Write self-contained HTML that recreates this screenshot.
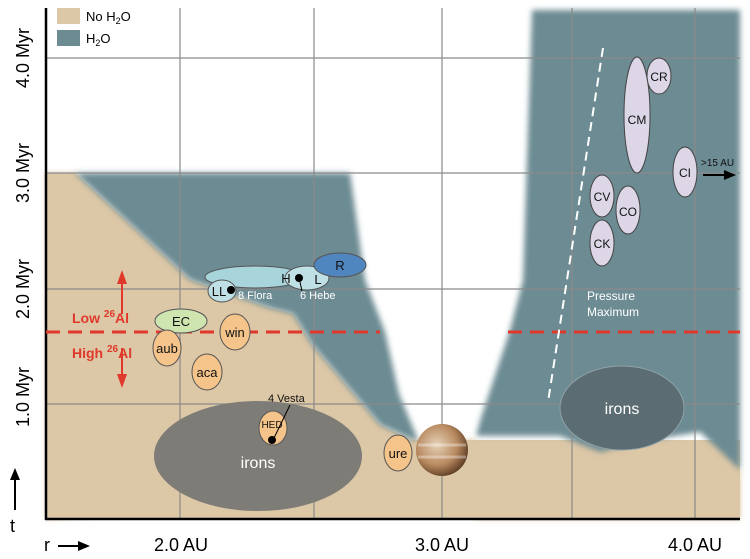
<!DOCTYPE html>
<html><head><meta charset="utf-8"><style>
html,body{margin:0;padding:0;background:#fff;}
svg{display:block;font-family:"Liberation Sans",Arial,sans-serif;}
</style></head><body>
<svg width="750" height="559" viewBox="0 0 750 559" xmlns="http://www.w3.org/2000/svg">
<defs>
<filter id="bl" x="-5%" y="-5%" width="110%" height="110%"><feGaussianBlur stdDeviation="3"/></filter>
<radialGradient id="jup" cx="40%" cy="40%" r="65%">
<stop offset="0" stop-color="#e6d2b8"/><stop offset="0.6" stop-color="#b98a60"/><stop offset="1" stop-color="#5a3a22"/></radialGradient>
</defs>
<rect width="750" height="559" fill="#fff"/>
<!-- tan -->
<polygon points="46,173 75,173 190,280 269,308 293,314 312,345 336,373 380,425 413,440 476,440 476,519 740,519 740,470 46,519" fill="#dcc7a6" filter="url(#bl)"/>
<rect x="46" y="440" width="694" height="79" fill="#dcc7a6"/>
<polygon points="46,173 75,173 190,280 269,308 293,314 312,345 336,373 380,425 415,442 46,442" fill="#dcc7a6"/>
<!-- left teal -->
<polygon points="75,173 350,173 365,280 385,332 399,394 418,440 413,440 380,425 336,373 312,345 293,314 269,308 190,280" fill="#6c8b93" filter="url(#bl)"/>
<!-- right teal -->
<polygon points="532,10 740,10 740,470 700,432 650,440 600,452 560,436 476,436 481,418 510,330 523,280" fill="#6c8b93" filter="url(#bl)"/>
<!-- grid -->
<g stroke="#8a8a8a" stroke-width="1.2">
<line x1="180" y1="8" x2="180" y2="519"/><line x1="314" y1="8" x2="314" y2="519"/>
<line x1="442" y1="8" x2="442" y2="519"/><line x1="572" y1="8" x2="572" y2="519"/>
<line x1="695" y1="8" x2="695" y2="519"/>
<line x1="46" y1="58" x2="740" y2="58"/><line x1="46" y1="173" x2="740" y2="173"/>
<line x1="46" y1="289" x2="740" y2="289"/><line x1="46" y1="404" x2="740" y2="404"/>
</g>
<line x1="46" y1="8" x2="46" y2="520" stroke="#000" stroke-width="2.5"/>
<line x1="45" y1="519" x2="740" y2="519" stroke="#000" stroke-width="2.5"/>
<!-- legend -->
<rect x="57" y="8" width="23" height="16" fill="#dcc7a6"/>
<rect x="57" y="30" width="23" height="16" fill="#6c8b93"/>
<text x="86" y="21" font-size="13">No H<tspan font-size="9" dy="3">2</tspan><tspan dy="-3">O</tspan></text>
<text x="86" y="43" font-size="13">H<tspan font-size="9" dy="3">2</tspan><tspan dy="-3">O</tspan></text>
<!-- y labels -->
<g font-size="18">
<text transform="translate(29,58) rotate(-90)" text-anchor="middle">4.0 Myr</text>
<text transform="translate(29,173) rotate(-90)" text-anchor="middle">3.0 Myr</text>
<text transform="translate(29,289) rotate(-90)" text-anchor="middle">2.0 Myr</text>
<text transform="translate(29,397) rotate(-90)" text-anchor="middle">1.0 Myr</text>
</g>
<line x1="15" y1="510" x2="15" y2="478" stroke="#000" stroke-width="2"/>
<polygon points="15,468 10,480 20,480" fill="#000"/>
<text x="10" y="532" font-size="18">t</text>
<text x="44" y="551" font-size="18">r</text>
<line x1="58" y1="546" x2="80" y2="546" stroke="#000" stroke-width="2"/>
<polygon points="90,546 78,541 78,551" fill="#000"/>
<g font-size="18" text-anchor="middle">
<text x="181" y="551">2.0 AU</text><text x="442" y="551">3.0 AU</text><text x="695" y="551">4.0 AU</text>
</g>
<!-- red -->
<line x1="46" y1="332" x2="380" y2="332" stroke="#e0392c" stroke-width="3" stroke-dasharray="14,8"/>
<line x1="508" y1="332" x2="740" y2="332" stroke="#e0392c" stroke-width="3" stroke-dasharray="14,8"/>
<line x1="122" y1="314" x2="122" y2="282" stroke="#e0392c" stroke-width="2"/>
<polygon points="122,270 117,284 127,284" fill="#e0392c"/>
<line x1="122" y1="348" x2="122" y2="376" stroke="#e0392c" stroke-width="2"/>
<polygon points="122,388 117,374 127,374" fill="#e0392c"/>
<text x="72" y="323" font-size="14" font-weight="bold" fill="#e0392c">Low <tspan font-size="10" dy="-6">26</tspan><tspan dy="6">Al</tspan></text>
<text x="72" y="358" font-size="14" font-weight="bold" fill="#e0392c">High <tspan font-size="10" dy="-6">26</tspan><tspan dy="6">Al</tspan></text>
<!-- irons -->
<ellipse cx="258" cy="456" rx="104" ry="55" fill="#7d7c76"/>
<text x="258" y="468" font-size="16" fill="#fff" text-anchor="middle">irons</text>
<ellipse cx="622" cy="408" rx="62" ry="42" fill="#5b6d72" stroke="#8fa3a8"/>
<text x="622" y="414" font-size="16" fill="#fff" text-anchor="middle">irons</text>
<!-- pressure -->
<line x1="603" y1="48" x2="548" y2="402" stroke="#fff" stroke-width="2" stroke-dasharray="9,6"/>
<text x="587" y="300" font-size="12" fill="#fff">Pressure</text>
<text x="587" y="316" font-size="12" fill="#fff">Maximum</text>
<!-- ordinary chondrites -->
<g stroke="#555" stroke-width="1">
<ellipse cx="255" cy="277" rx="50" ry="11" fill="#a8d4dc"/>
<ellipse cx="307" cy="278" rx="22" ry="12" fill="#bfe0e4"/>
<ellipse cx="340" cy="265" rx="26" ry="12" fill="#4f86c0"/>
<ellipse cx="222" cy="291" rx="14" ry="11" fill="#bfe0e4"/>
<ellipse cx="181" cy="321" rx="26" ry="12" fill="#cfe5b0"/>
<ellipse cx="167" cy="348" rx="14" ry="18" fill="#f5c48a"/>
<ellipse cx="235" cy="332" rx="15" ry="18" fill="#f5c48a"/>
<ellipse cx="207" cy="372" rx="15" ry="18" fill="#f5c48a"/>
<ellipse cx="273" cy="428" rx="14" ry="17" fill="#f5c48a"/>
<ellipse cx="398" cy="453" rx="14" ry="18" fill="#f5c48a"/>
</g>
<circle cx="442" cy="450" r="26" fill="url(#jup)"/>
<g stroke="#fff" stroke-opacity="0.35" stroke-width="3"><line x1="418" y1="445" x2="466" y2="445"/><line x1="418" y1="457" x2="466" y2="457"/></g>
<g font-size="13" text-anchor="middle" fill="#111">
<text x="340" y="270">R</text>
<text x="286" y="283">H</text><text x="318" y="284">L</text>
<text x="219" y="296">LL</text>
<text x="181" y="326">EC</text>
<text x="167" y="353">aub</text><text x="235" y="337">win</text><text x="207" y="377">aca</text>
<text x="398" y="458">ure</text>
<text x="272" y="428" font-size="10">HED</text>
</g>
<circle cx="299" cy="278" r="4" fill="#000"/>
<circle cx="231" cy="290" r="4" fill="#000"/>
<circle cx="272" cy="440" r="4" fill="#000"/>
<line x1="274" y1="438" x2="290" y2="405" stroke="#000"/>
<line x1="300" y1="282" x2="302" y2="291" stroke="#000"/>
<text x="268" y="402" font-size="11" fill="#111">4 Vesta</text>
<text x="238" y="299" font-size="11" fill="#fff">8 Flora</text>
<text x="300" y="299" font-size="11" fill="#fff">6 Hebe</text>
<!-- carbonaceous -->
<g stroke="#444" stroke-width="1" fill="#dcd6e6">
<ellipse cx="659" cy="76" rx="12" ry="18"/>
<ellipse cx="637" cy="115" rx="13" ry="58"/>
<ellipse cx="685" cy="172" rx="12" ry="25"/>
<ellipse cx="602" cy="196" rx="12" ry="21"/>
<ellipse cx="628" cy="210" rx="12" ry="24"/>
<ellipse cx="602" cy="243" rx="12" ry="23"/>
</g>
<g font-size="12" text-anchor="middle" fill="#111">
<text x="659" y="81">CR</text><text x="637" y="124">CM</text><text x="685" y="177">CI</text>
<text x="602" y="201">CV</text><text x="628" y="216">CO</text><text x="602" y="248">CK</text>
</g>
<text x="701" y="166" font-size="10" fill="#111">&gt;15 AU</text>
<line x1="703" y1="175" x2="726" y2="175" stroke="#000" stroke-width="2"/>
<polygon points="736,175 724,170 724,180" fill="#000"/>
</svg>
</body></html>
